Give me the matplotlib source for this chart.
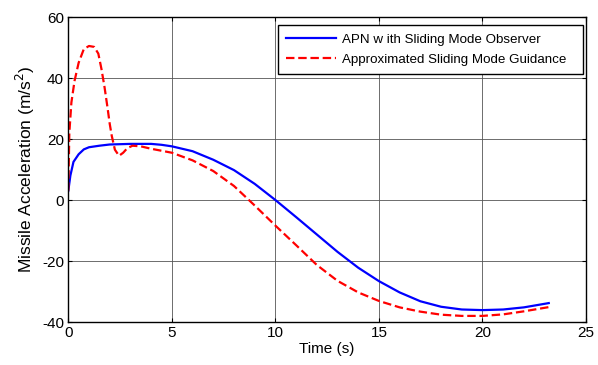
import matplotlib
matplotlib.use("Agg")
import matplotlib.pyplot as plt

plt.rcParams['font.family'] = ['Liberation Sans', 'DejaVu Sans']
plt.rcParams['axes.unicode_minus'] = False

# APN with sliding mode observer
t_apn = [0, 0.1, 0.25, 0.5, 0.75, 1.0, 1.5, 2.0, 3.0, 4.0, 4.5, 5.0, 6.0, 7.0,
         8.0, 9.0, 10.0, 11.0, 12.0, 13.0, 14.0, 15.0, 16.0, 17.0, 18.0, 19.0,
         20.0, 21.0, 22.0, 23.2]
a_apn = [3, 8, 12.5, 15.0, 16.6, 17.3, 17.8, 18.2, 18.4, 18.4, 18.1, 17.6, 16.0,
         13.2, 9.8, 5.3, 0, -5.6, -11.3, -17.0, -22.2, -26.6, -30.3, -33.2,
         -35.0, -35.9, -36.1, -35.9, -35.2, -33.8]

# approximated sliding mode guidance
t_smg = [0, 0.05, 0.15, 0.3, 0.5, 0.75, 1.0, 1.25, 1.45, 1.6, 1.75, 1.9, 2.0,
         2.1, 2.25, 2.45, 2.65, 2.85, 3.1, 3.5, 4.0, 5.0, 6.0, 7.0, 8.0, 9.0,
         10.0, 11.0, 12.0, 13.0, 14.0, 15.0, 16.0, 17.0, 18.0, 19.0, 20.0,
         21.0, 22.0, 23.3]
a_smg = [3, 22, 32, 39, 45, 49.5, 50.5, 50.2, 48, 43, 37, 30, 25, 21, 16.5,
         14.5, 15.5, 17, 17.8, 17.6, 16.8, 15.5, 13.0, 9.5, 4.6, -1.8, -8.4,
         -14.8, -21.3, -26.5, -30.3, -33.1, -35.2, -36.6, -37.6, -38.0, -38.0,
         -37.5, -36.5, -35.0]

x_ticks = [0, 5, 10, 15, 20, 25]
y_ticks = [-40, -20, 0, 20, 40, 60]

fig = plt.figure(figsize=(5.98, 3.65), dpi=100)
ax = fig.add_axes([0.1142, 0.1178, 0.8658, 0.8356])

ax.plot(t_apn, a_apn, color='#0000ff', linewidth=1.6,
        label="APN w ith Sliding Mode Observer")
ax.plot(t_smg, a_smg, color='#ff0000', linewidth=1.6, linestyle=(0, (3.8, 1.7)),
        label="Approximated Sliding Mode Guidance")

ax.set_xlim(0, 25)
ax.set_ylim(-40, 60)
ax.set_xticks(x_ticks)
ax.set_yticks(y_ticks)
ax.tick_params(direction='in', top=True, right=True, labelsize=11, length=3,
               width=0.8, pad=3)
ax.grid(True, color='#555555', linewidth=0.6)
for s in ax.spines.values():
    s.set_linewidth(1.0)

ax.set_xlabel("Time (s)", fontsize=11, labelpad=1)
ax.set_ylabel("Missile Acceleration (m/s$^2$)", fontsize=12.5, labelpad=4)

# MATLAB-style legend box, wider than its text
leg = ax.legend(loc='upper left', bbox_to_anchor=(0.405, 0.0, 0.589, 0.974),
                mode='expand', borderaxespad=0, fontsize=9.6, handlelength=3.75,
                handletextpad=0.45, labelspacing=0.6, borderpad=0.62,
                fancybox=False, framealpha=1, edgecolor='black')
leg.get_frame().set_linewidth(1.0)

fig.savefig("out.png", dpi=100)
